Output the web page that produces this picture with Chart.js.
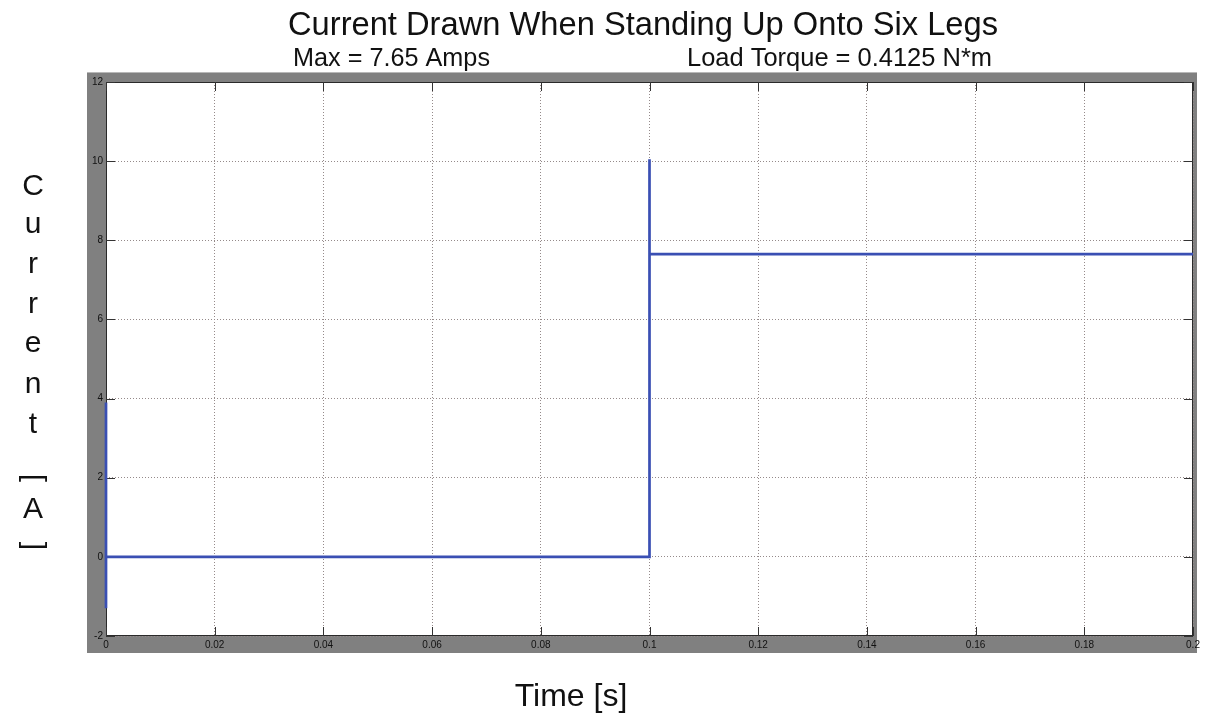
<!DOCTYPE html>
<html>
<head>
<meta charset="utf-8">
<script src="https://cdn.jsdelivr.net/npm/chart.js@4/dist/chart.umd.min.js"></script>
<style>
  html, body { margin: 0; padding: 0; background: #ffffff; }
  #wrap { width: 1205px; height: 715px; position: relative; }
</style>
</head>
<body>
<div id="wrap"><canvas id="chart" width="1205" height="715"></canvas></div>
<script>
// Motor current trace (step response when standing up)
const timeValues    = [0, 0, 0, 0.1, 0.1, 0.1, 0.2];
const currentValues = [3.9, -1.3, 0, 0, 10.05, 7.65, 7.65];

const xTickLabels = ['0', '0.02', '0.04', '0.06', '0.08', '0.1', '0.12', '0.14', '0.16', '0.18', '0.2'];
const yTickLabels = ['-2', '0', '2', '4', '6', '8', '10', '12'];

const titleText = 'Current Drawn When Standing Up Onto Six Legs';
const maxText = 'Max = 7.65 Amps';
const torqueText = 'Load Torque = 0.4125 N*m';
const yTitleLetters = ['C', 'u', 'r', 'r', 'e', 'n', 't'];
const xTitleText = 'Time [s]';

const points = timeValues.map((t, i) => ({ x: t, y: currentValues[i] }));

const FONT = '"Liberation Sans", Arial, sans-serif';

// Draw text squeezed/stretched horizontally to a given width
function fitText(ctx, text, left, baseline, width, size) {
  ctx.save();
  ctx.font = size + 'px ' + FONT;
  const w = ctx.measureText(text).width;
  ctx.translate(left, baseline);
  ctx.scale(width / w, 1);
  ctx.textAlign = 'left';
  ctx.textBaseline = 'alphabetic';
  ctx.fillText(text, 0, 0);
  ctx.restore();
}

const framePlugin = {
  id: 'scopeFrame',
  beforeDraw(chart) {
    const { ctx, chartArea: a } = chart;
    ctx.save();
    ctx.fillStyle = '#ffffff';
    ctx.fillRect(0, 0, chart.width, chart.height);
    // grey figure panel around the axes
    ctx.fillStyle = '#808080';
    ctx.fillRect(87, 72, 1110, 581);
    ctx.fillStyle = '#b8b8b8';
    ctx.fillRect(87, 72, 1110, 1);
    ctx.fillStyle = '#ffffff';
    ctx.fillRect(a.left, a.top, a.right - a.left, a.bottom - a.top);
    ctx.restore();
  },
  beforeDatasetsDraw(chart) {
    const { ctx, chartArea: a, scales } = chart;
    ctx.save();
    ctx.strokeStyle = '#2a2a2a';
    ctx.lineWidth = 1;
    ctx.strokeRect(a.left + 0.5, a.top + 0.5, a.right - a.left - 1, a.bottom - a.top - 1);
    // inward tick marks on all four sides
    const len = 9;
    ctx.strokeStyle = '#333333';
    ctx.beginPath();
    scales.x.ticks.forEach((t) => {
      const px = Math.round(scales.x.getPixelForValue(t.value)) + 0.5;
      ctx.moveTo(px, a.bottom); ctx.lineTo(px, a.bottom - len);
      ctx.moveTo(px, a.top); ctx.lineTo(px, a.top + len);
    });
    scales.y.ticks.forEach((t) => {
      const py = Math.round(scales.y.getPixelForValue(t.value)) + 0.5;
      ctx.moveTo(a.left, py); ctx.lineTo(a.left + len, py);
      ctx.moveTo(a.right, py); ctx.lineTo(a.right - len, py);
    });
    ctx.stroke();
    ctx.restore();
  },
  afterDraw(chart) {
    const { ctx } = chart;
    ctx.save();
    ctx.fillStyle = '#111111';
    fitText(ctx, titleText, 288, 35, 710, 33);
    fitText(ctx, maxText, 293, 66, 197, 25);
    fitText(ctx, torqueText, 687, 66, 305, 25);

    // axis titles
    ctx.font = '32px ' + FONT;
    ctx.textAlign = 'center';
    ctx.textBaseline = 'alphabetic';
    ctx.fillText(xTitleText, 571, 706);

    ctx.font = '30px ' + FONT;
    ctx.textBaseline = 'middle';
    const letterY = [187, 228, 268, 308, 347, 388, 428];
    yTitleLetters.forEach((ch, i) => {
      const isCap = ch === 'C';
      ctx.fillText(ch, 33, letterY[i] + (isCap ? 0 : -3));
    });
    ctx.fillText('A', 33, 510);
    // unit brackets, turned on their side
    [['[', 478], [']', 546]].forEach(([b, y]) => {
      ctx.save();
      ctx.translate(33, y);
      ctx.rotate(Math.PI / 2);
      ctx.fillText(b, 0, 0);
      ctx.restore();
    });
    ctx.restore();
  }
};

new Chart(document.getElementById('chart'), {
  type: 'line',
  data: {
    datasets: [{
      data: points,
      borderColor: '#3a4fb3',
      borderWidth: 2.7,
      pointRadius: 0,
      tension: 0,
      fill: false,
      clip: false
    }]
  },
  plugins: [framePlugin],
  options: {
    responsive: false,
    animation: false,
    events: [],
    layout: { padding: { left: 0, top: 82, right: 12, bottom: 59 } },
    plugins: { legend: { display: false }, tooltip: { enabled: false }, title: { display: false } },
    scales: {
      x: {
        type: 'linear',
        min: 0,
        max: 0.2,
        afterFit(scale) { scale.height = 20; },
        afterBuildTicks(scale) {
          scale.ticks = xTickLabels.map((l) => ({ value: parseFloat(l) }));
        },
        ticks: {
          padding: 3,
          color: '#111111',
          font: { family: FONT, size: 10 },
          maxRotation: 0,
          autoSkip: false,
          callback: (v, i) => xTickLabels[i]
        },
        grid: {
          color: '#958a8a',
          lineWidth: 1,
          drawTicks: false
        },
        border: { display: false, dash: [1, 2] }
      },
      y: {
        type: 'linear',
        min: -2,
        max: 12,
        afterFit(scale) { scale.width = 106; },
        afterBuildTicks(scale) {
          scale.ticks = yTickLabels.map((l) => ({ value: parseFloat(l) }));
        },
        ticks: {
          padding: 3,
          color: '#111111',
          font: { family: FONT, size: 10 },
          autoSkip: false,
          callback: (v, i) => yTickLabels[i]
        },
        grid: {
          color: '#958a8a',
          lineWidth: 1,
          drawTicks: false
        },
        border: { display: false, dash: [1, 2] }
      }
    }
  }
});
</script>
</body>
</html>
